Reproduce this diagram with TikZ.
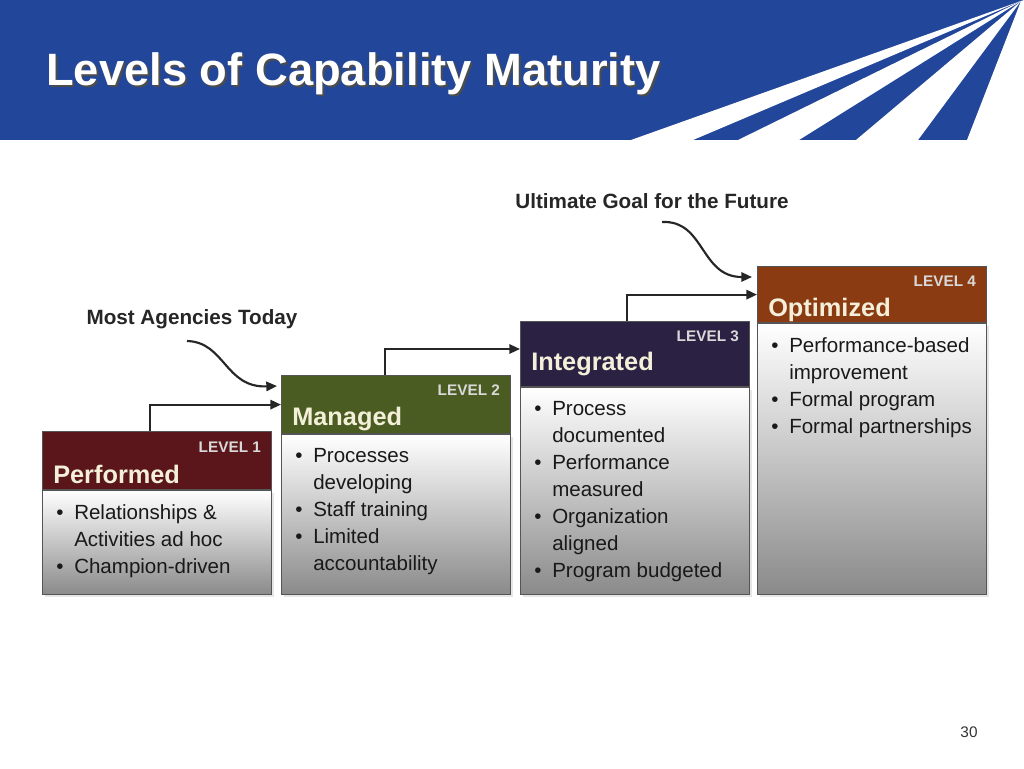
\documentclass[tikz,border=0pt]{standalone}
\usepackage{fontspec}
\setmainfont{Liberation Sans}
\usepackage{tikz}
\usetikzlibrary{arrows.meta,positioning,calc,shadows}

\definecolor{barblue}{HTML}{21469A}
\definecolor{lvlone}{HTML}{5A161A}
\definecolor{lvltwo}{HTML}{4A5C22}
\definecolor{lvlthree}{HTML}{2B2143}
\definecolor{lvlfour}{HTML}{8A3B12}
\definecolor{headtxt}{HTML}{F4EFD9}
\definecolor{lvltxt}{HTML}{D9D9D9}
\definecolor{edge}{HTML}{555555}

\newcommand{\bul}{\makebox[13.5pt][l]{\textbullet}}
\newcommand{\nob}{\hspace*{13.5pt}}

\begin{document}
\begin{tikzpicture}[
  x=0.75pt,y=-0.75pt,
  head/.style={anchor=north west,minimum width=171.75pt,inner sep=0,draw=edge,line width=0.9pt},
  body/.style={anchor=north west,minimum width=171.75pt,inner sep=0,draw=edge,line width=0.9pt,
    top color=white,bottom color=black!46,
    drop shadow={opacity=0.2,shadow xshift=1.5pt,shadow yshift=-1.5pt}},
  lvl/.style={anchor=base east,inner sep=0,text=lvltxt,font=\fontsize{11.5}{12}\selectfont\bfseries},
  ttl/.style={anchor=base west,inner sep=0,text=headtxt,font=\fontsize{19}{20}\selectfont\bfseries},
  pts/.style={anchor=north west,inner sep=0,align=left,text=black!90,font=\fontsize{15.4}{20.25}\selectfont},
  note/.style={inner sep=0,text=black!85,font=\fontsize{15.5}{16}\selectfont\bfseries},
  conn/.style={-{Triangle[length=8pt,width=7pt]},line width=1.6pt,black!85}
]
  \useasboundingbox (0,0) rectangle (1024,768);

  % title bar
  \fill[barblue] (0,0) rectangle (1024,140);
  \fill[white] (1021,1) -- (631,140) -- (693,140) -- cycle;
  \fill[white] (1021,1) -- (738,140) -- (799,140) -- cycle;
  \fill[white] (1021,1) -- (856,140) -- (918,140) -- cycle;
  \fill[white] (1024,0) -- (1021,1) -- (967,140) -- (1024,140) -- cycle;
  \node[anchor=base west,inner sep=0,text=black!70,font=\fontsize{34}{36}\selectfont\bfseries]
    (ttlshadow) at (48,87) {Levels of Capability Maturity};
  \node[anchor=base west,inner sep=0,text=white,font=\fontsize{34}{36}\selectfont\bfseries]
    (ttlmain) at (46,85) {Levels of Capability Maturity};

  % levels
  \node[head,fill=lvlone,minimum height=43.5pt]   (h1) at (42,431)  {};
  \node[head,fill=lvltwo,minimum height=43.5pt]   (h2) at (281,375) {};
  \node[head,fill=lvlthree,minimum height=48.75pt] (h3) at (520,321) {};
  \node[head,fill=lvlfour,minimum height=42pt]    (h4) at (757,266) {};

  \node[body,minimum height=78pt]     (b1) at (h1.south west) {};
  \node[body,minimum height=120pt]    (b2) at (h2.south west) {};
  \node[body,minimum height=155.25pt] (b3) at (h3.south west) {};
  \node[body,minimum height=203.25pt] (b4) at (h4.south west) {};

  \node[lvl] (l1) at ($(h1.north east)+(-11,21)$) {LEVEL 1};
  \node[lvl] (l2) at ($(h2.north east)+(-11,20)$) {LEVEL 2};
  \node[lvl] (l3) at ($(h3.north east)+(-11,20)$) {LEVEL 3};
  \node[lvl] (l4) at ($(h4.north east)+(-11,20)$) {LEVEL 4};

  \node[ttl] (t1) at ($(h1.north west)+(11,52)$) {Performed};
  \node[ttl] (t2) at ($(h2.north west)+(11,50)$) {Managed};
  \node[ttl] (t3) at ($(h3.north west)+(11,49)$) {Integrated};
  \node[ttl] (t4) at ($(h4.north west)+(11,50)$) {Optimized};

  \node[pts] (p1) at ($(b1.north west)+(14,14)$)
    {\bul Relationships \&\\\nob Activities ad hoc\\\bul Champion-driven};
  \node[pts] (p2) at ($(b2.north west)+(14,14)$)
    {\bul Processes\\\nob developing\\\bul Staff training\\\bul Limited\\\nob accountability};
  \node[pts] (p3) at ($(b3.north west)+(14,14)$)
    {\bul Process\\\nob documented\\\bul Performance\\\nob measured\\\bul Organization\\\nob aligned\\\bul Program budgeted};
  \node[pts] (p4) at ($(b4.north west)+(14,14)$)
    {\bul Performance-based\\\nob improvement\\\bul Formal program\\\bul Formal partnerships};

  % steps up
  \draw[conn] ($(h1.north west)+(108,0)$) |- (h2.west);
  \draw[conn] ($(h2.north west)+(104,0)$) |- ($(h3.north west)+(0,28)$);
  \draw[conn] ($(h3.north west)+(107,0)$) |- (h4.west);

  % call-outs
  \node[note] (most) at (192,319) {Most Agencies Today};
  \node[note] (goal) at (652,201) {Ultimate Goal for the Future};
  \coordinate (c1) at (187,341);
  \coordinate (c2) at (662,222);
  \draw[conn] (c1) .. controls (225,342) and (225,388) .. ($(h2.north west)+(-4,11)$);
  \draw[conn] (c2) .. controls (705,220) and (700,277) .. ($(h4.north west)+(-5,11)$);

  \node[text=black!80,font=\fontsize{11.5}{12}\selectfont] (pageno) at (969,732) {30};
\end{tikzpicture}
\end{document}
